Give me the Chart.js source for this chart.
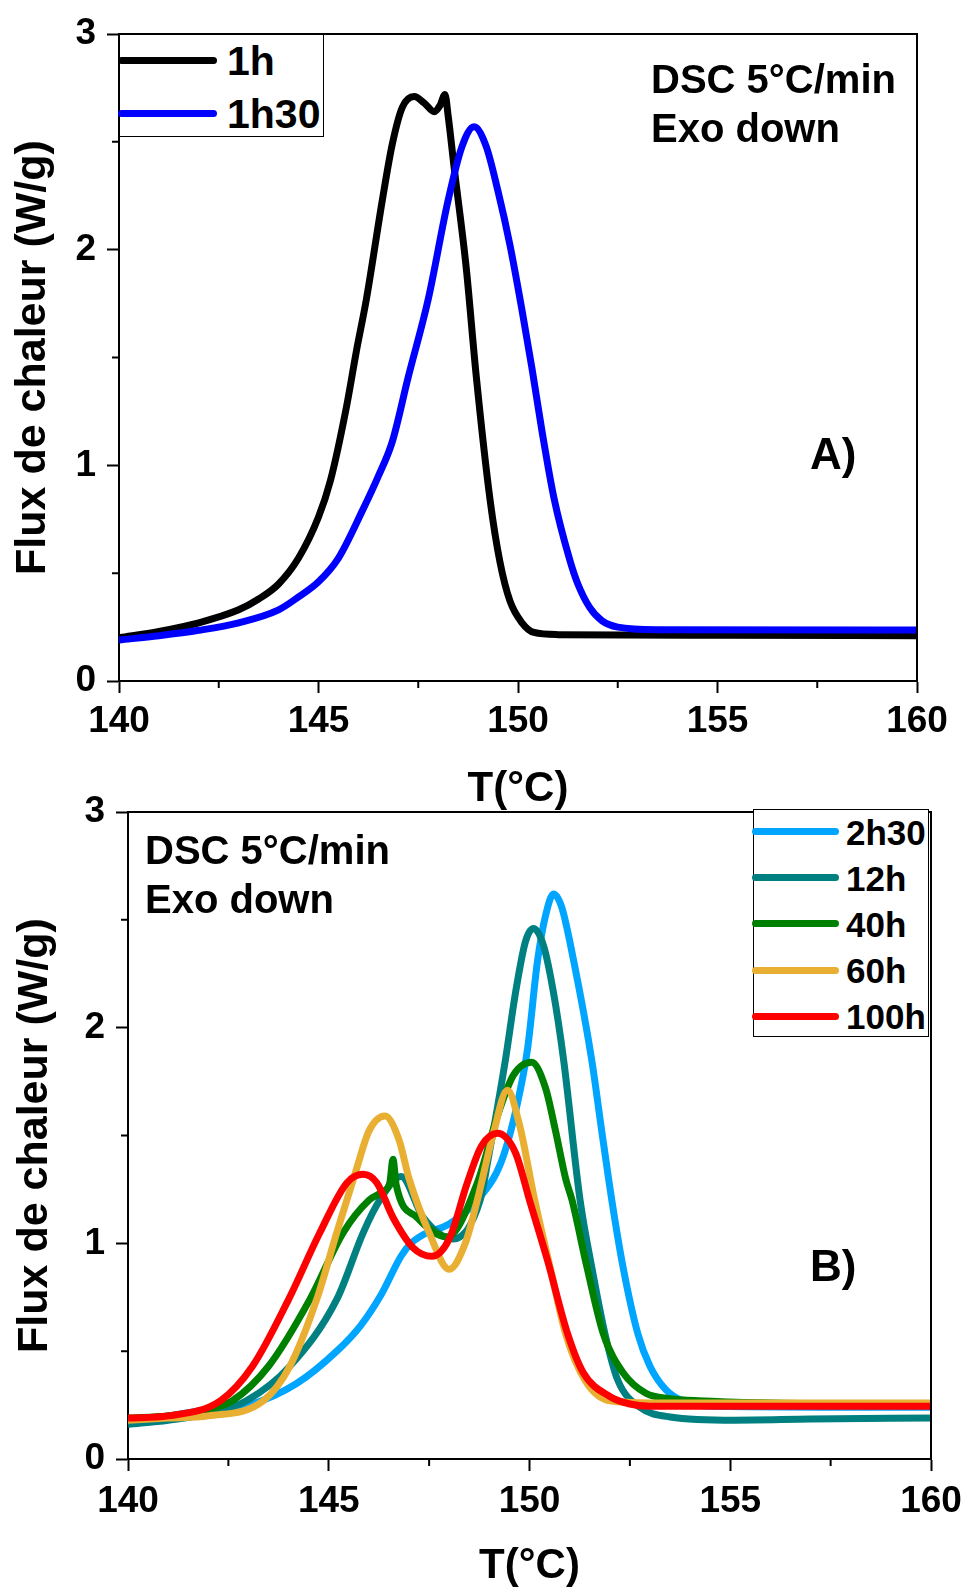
<!DOCTYPE html>
<html>
<head>
<meta charset="utf-8">
<script src="https://cdn.jsdelivr.net/npm/chart.js@4"></script>
<style>
  body { margin: 0; background: #fff; width: 969px; height: 1587px; position: relative; overflow: hidden;
         font-family: 'Liberation Sans', Arial, sans-serif; }
  canvas { position: absolute; left: 0; }
  .note { position: absolute; font-weight: bold; font-size: 40px; line-height: 1; white-space: nowrap; color: #000; z-index: 2; }
  .legend { position: absolute; border: 1px solid #000; background: #fff; z-index: 2; box-sizing: border-box; }
  .legend .sw { position: absolute; height: 7px; border-radius: 4px; }
  .legend .lb { position: absolute; font-weight: bold; line-height: 1; white-space: nowrap; color: #000; }
</style>
</head>
<body>
<canvas id="chartA" width="969" height="810" style="top:0"></canvas>
<canvas id="chartB" width="969" height="817" style="top:770px"></canvas>

<div class="note" style="left:651px; top:59px">DSC 5°C/min</div>
<div class="note" style="left:651px; top:108px">Exo down</div>
<div class="note" style="left:810px; top:432px; font-size:44px">A)</div>
<div class="note" style="left:145px; top:830px">DSC 5°C/min</div>
<div class="note" style="left:145px; top:879px">Exo down</div>
<div class="note" style="left:810px; top:1244px; font-size:44px">B)</div>

<div class="legend" id="legendA" style="left:119px; top:34px; width:205px; height:103px"></div>
<div class="legend" id="legendB" style="left:753px; top:809px; width:176px; height:228px"></div>

<script>
// Panel A: 1h and 1h30 (T in °C, heat flow in W/g)
const tempA1h = [140, 141, 142, 143, 143.5, 144, 144.5, 145, 145.3, 145.7, 145.95, 146.2, 146.6, 146.85, 147.1, 147.4,
  147.65, 147.9, 148.05, 148.17, 148.25, 148.4, 148.7, 148.95, 149.3, 149.55, 149.8, 150.1, 150.4, 151, 155, 160];
const fluxA1h = [0.20, 0.23, 0.27, 0.33, 0.38, 0.45, 0.57, 0.76, 0.93, 1.27, 1.53, 1.77, 2.23, 2.49, 2.66, 2.71,
  2.68, 2.64, 2.67, 2.72, 2.62, 2.38, 1.92, 1.42, 0.84, 0.55, 0.37, 0.27, 0.225, 0.215, 0.212, 0.21];

const tempA1h30 = [140, 141, 142, 143, 144, 144.5, 145, 145.5, 146.1, 146.5, 146.85, 147.25, 147.75, 148.25, 148.6, 148.9,
  149.2, 149.5, 149.8, 150.1, 150.35, 150.6, 150.9, 151.3, 151.5, 151.8, 152.1, 152.5, 153.5, 160];
const fluxA1h30 = [0.19, 0.21, 0.235, 0.27, 0.33, 0.39, 0.46, 0.57, 0.79, 0.95, 1.11, 1.41, 1.77, 2.23, 2.48, 2.57,
  2.48, 2.27, 2.02, 1.72, 1.45, 1.16, 0.85, 0.56, 0.45, 0.34, 0.28, 0.25, 0.238, 0.236];

// Panel B: 2h30, 12h, 40h, 60h, 100h
const tempB2h30 = [140, 141, 142, 143, 144.2, 145.2, 145.8, 146.3, 146.8, 147.05, 147.35, 148.0, 148.7, 149.3, 149.7,
  149.95, 150.2, 150.4, 150.6, 150.8, 151.1, 151.55, 151.8, 152.05, 152.33, 152.7, 153.0, 153.4, 153.8, 154.5, 160];
const fluxB2h30 = [0.18, 0.20, 0.23, 0.25, 0.35, 0.50, 0.62, 0.76, 0.94, 1.00, 1.04, 1.09, 1.20, 1.38, 1.65,
  1.90, 2.31, 2.52, 2.62, 2.56, 2.31, 1.85, 1.52, 1.20, 0.89, 0.58, 0.43, 0.32, 0.27, 0.245, 0.24];

const tempB12h = [140, 141, 142, 142.95, 144.03, 145.2, 145.86, 146.27, 146.8, 147.35, 148.1, 148.77, 148.97, 149.4,
  149.65, 149.9, 150.1, 150.35, 150.6, 150.85, 151.26, 151.55, 151.88, 152.2, 152.75, 153.5, 155.1, 157, 160];
const fluxB12h = [0.16, 0.18, 0.21, 0.27, 0.43, 0.74, 1.05, 1.20, 1.31, 1.12, 1.02, 1.20, 1.39, 1.85,
  2.16, 2.40, 2.46, 2.38, 2.16, 1.85, 1.20, 0.89, 0.58, 0.365, 0.24, 0.195, 0.18, 0.185, 0.19];

const tempB40h = [140, 141, 142, 142.6, 143.5, 144.53, 145.36, 146.0, 146.35, 146.52, 146.6, 146.68, 147.2, 147.95,
  148.7, 149.2, 149.6, 150.05, 150.4, 150.65, 150.9, 151.06, 151.43, 151.84, 152.33, 152.9, 153.5, 154.2, 160];
const fluxB40h = [0.19, 0.20, 0.23, 0.27, 0.43, 0.74, 1.05, 1.20, 1.24, 1.28, 1.39, 1.27, 1.12, 1.03,
  1.28, 1.59, 1.78, 1.84, 1.72, 1.52, 1.30, 1.20, 0.89, 0.58, 0.40, 0.305, 0.28, 0.27, 0.25];

const tempB60h = [140, 141, 142, 143.37, 144.03, 144.7, 145.2, 145.7, 146.0, 146.4, 146.75, 147.0, 147.5, 148.0,
  148.4, 148.7, 149.1, 149.45, 149.75, 150.13, 150.5, 150.9, 151.4, 152, 153, 160];
const fluxB60h = [0.18, 0.19, 0.20, 0.27, 0.43, 0.74, 1.05, 1.35, 1.52, 1.59, 1.48, 1.30, 1.05, 0.88,
  1.00, 1.20, 1.51, 1.71, 1.55, 1.20, 0.90, 0.58, 0.36, 0.27, 0.26, 0.26];

const tempB100h = [140, 141, 142.3, 143.1, 144.0, 144.78, 145.45, 145.86, 146.2, 146.6, 147.1, 147.57, 148.0, 148.45,
  148.8, 149.2, 149.65, 150.0, 150.45, 150.95, 151.34, 152.0, 152.5, 153, 160];
const fluxB100h = [0.19, 0.20, 0.27, 0.43, 0.74, 1.05, 1.28, 1.32, 1.28, 1.12, 0.98, 0.94, 1.02, 1.28,
  1.45, 1.51, 1.42, 1.20, 0.92, 0.58, 0.40, 0.29, 0.255, 0.245, 0.245];

const labelsA = ['1h', '1h30'];
const colorsA = ['#000000', '#0000FF'];
const labelsB = ['2h30', '12h', '40h', '60h', '100h'];
const colorsB = ['#00A5FF', '#008080', '#008000', '#E8AF32', '#FF0000'];

const xTicksMinor = [142.5, 147.5, 152.5, 157.5];
const yTicksMinor = [0.5, 1.5, 2.5];

const FONT = "'Liberation Sans', Arial, sans-serif";

// top + right frame lines and minor ticks (Chart.js has no minor ticks)
const framePlugin = {
  id: 'frame',
  afterDraw(chart) {
    const { ctx, chartArea: a, scales: { x, y } } = chart;
    ctx.save();
    ctx.strokeStyle = '#000';
    ctx.lineWidth = 2;
    ctx.beginPath();
    ctx.moveTo(a.left, a.top);
    ctx.lineTo(a.right, a.top);
    ctx.lineTo(a.right, a.bottom);
    xTicksMinor.forEach(v => {
      const px = x.getPixelForValue(v);
      ctx.moveTo(px, a.bottom);
      ctx.lineTo(px, a.bottom + 7);
    });
    yTicksMinor.forEach(v => {
      const py = y.getPixelForValue(v);
      ctx.moveTo(a.left, py);
      ctx.lineTo(a.left - 7, py);
    });
    ctx.stroke();
    ctx.restore();
  }
};

function series(label, temps, flux, color, order) {
  return {
    label,
    data: temps.map((t, i) => ({ x: t, y: flux[i] })),
    borderColor: color,
    backgroundColor: color,
    borderWidth: 7,
    pointRadius: 0,
    cubicInterpolationMode: 'monotone',
    order
  };
}

function makeChart(id, datasets, lay) {
  return new Chart(document.getElementById(id), {
    type: 'line',
    data: { datasets },
    plugins: [framePlugin],
    options: {
      responsive: false,
      animation: false,
      devicePixelRatio: 1,
      layout: { padding: { top: lay.top, right: lay.right, bottom: 0, left: 0 } },
      plugins: { legend: { display: false }, tooltip: { enabled: false } },
      scales: {
        x: {
          type: 'linear', min: 140, max: 160,
          ticks: { stepSize: 5, color: '#000', padding: lay.xPad, font: { family: FONT, size: 37, weight: 'bold' } },
          grid: { drawOnChartArea: false, tickLength: 12, tickWidth: 2, tickColor: '#000' },
          border: { color: '#000', width: 2 },
          title: { display: true, text: 'T(°C)', color: '#000', padding: { top: 0, bottom: lay.xTitlePad },
                   font: { family: FONT, size: 42, weight: 'bold', lineHeight: 1 } },
          afterFit(s) { s.height = lay.xH; s.paddingLeft = 0; s.paddingRight = 0; }
        },
        y: {
          type: 'linear', min: 0, max: 3,
          ticks: { stepSize: 1, color: '#000', padding: 11, font: { family: FONT, size: 37, weight: 'bold' } },
          grid: { drawOnChartArea: false, tickLength: 12, tickWidth: 2, tickColor: '#000' },
          border: { color: '#000', width: 2 },
          title: { display: true, text: 'Flux de chaleur (W/g)', color: '#000', padding: { top: lay.yTitlePad, bottom: 0 },
                   font: { family: FONT, size: 43, weight: 'bold', lineHeight: 1 } },
          afterFit(s) { s.width = lay.yW; s.paddingTop = 0; s.paddingBottom = 0; }
        }
      }
    }
  });
}

function buildLegend(id, labels, colors, opt) {
  const box = document.getElementById(id);
  labels.forEach((lab, i) => {
    const cy = opt.first + i * opt.gap;
    const sw = document.createElement('div');
    sw.className = 'sw';
    sw.style.left = opt.swLeft + 'px';
    sw.style.width = opt.swWidth + 'px';
    sw.style.top = (cy - 4) + 'px';
    sw.style.background = colors[i];
    box.appendChild(sw);
    const lb = document.createElement('div');
    lb.className = 'lb';
    lb.textContent = lab;
    lb.style.left = opt.textLeft + 'px';
    lb.style.fontSize = opt.size + 'px';
    lb.style.top = (cy - opt.size / 2) + 'px';
    box.appendChild(lb);
  });
}

makeChart('chartA', [
  series(labelsA[0], tempA1h, fluxA1h, colorsA[0], 1),
  series(labelsA[1], tempA1h30, fluxA1h30, colorsA[1], 0)
], { top: 34, right: 52, xH: 129, yW: 119, xPad: 7, xTitlePad: 0, yTitlePad: 12 });

makeChart('chartB', [
  series(labelsB[0], tempB2h30, fluxB2h30, colorsB[0], 5),
  series(labelsB[1], tempB12h, fluxB12h, colorsB[1], 4),
  series(labelsB[2], tempB40h, fluxB40h, colorsB[2], 3),
  series(labelsB[3], tempB60h, fluxB60h, colorsB[3], 2),
  series(labelsB[4], tempB100h, fluxB100h, colorsB[4], 1)
], { top: 42, right: 38, xH: 128, yW: 128, xPad: 9, xTitlePad: 0, yTitlePad: 14 });

buildLegend('legendA', labelsA, colorsA, { first: 26, gap: 53, swLeft: -2, swWidth: 99, textLeft: 107, size: 41 });
buildLegend('legendB', labelsB, colorsB, { first: 22, gap: 46.2, swLeft: -2, swWidth: 87, textLeft: 92, size: 35 });
</script>
</body>
</html>
